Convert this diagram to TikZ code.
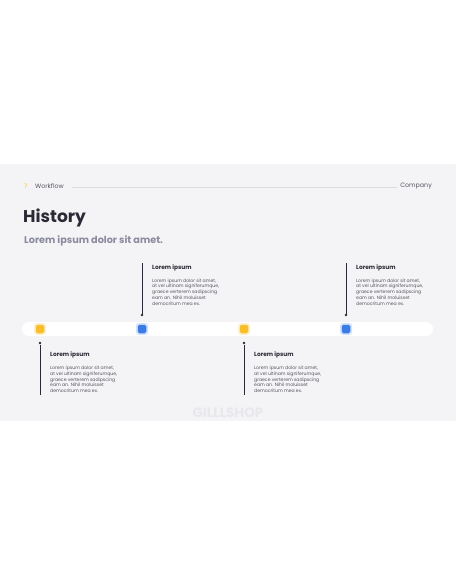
\documentclass[tikz,border=0pt]{standalone}
\usepackage{fontspec}
\setmainfont{Poppins}
\definecolor{slidebg}{HTML}{F4F4F6}
\definecolor{ink}{HTML}{2A2A36}
\definecolor{subgray}{HTML}{8A8A9E}
\definecolor{bodygray}{HTML}{55555F}
\definecolor{linegray}{HTML}{DCDCE0}
\definecolor{myyellow}{HTML}{F8BF2A}
\definecolor{myblue}{HTML}{3B7BE6}
\definecolor{wm}{HTML}{E8E8EC}
\begin{document}
\begin{tikzpicture}[x=1pt,y=-1pt,
  head/.style={anchor=west, font=\fontsize{5.9}{6.5}\selectfont\bfseries, text=ink, inner sep=0},
  body/.style={anchor=north west, align=left, font=\fontsize{4.6}{5.7}\selectfont, text=bodygray, inner sep=0},
  stem/.style={draw=ink, line width=0.5pt},
  dot/.style={circle, fill=ink, inner sep=0, minimum size=2.6pt},
  marker/.style={rounded corners=1.6pt, minimum size=8.5pt, inner sep=0},
  glow/.style={rounded corners=3pt, minimum size=12pt, inner sep=0, opacity=0.22}]
\useasboundingbox (0,0) rectangle (456,586);
\fill[white] (0,0) rectangle (456,586);
\fill[slidebg] (0,164) rectangle (456,421);
% header
\node[anchor=west, text=myyellow, font=\fontsize{6}{7}\selectfont, inner sep=0] (num) at (24,186.5) {7};
\node[anchor=west, text=bodygray, font=\fontsize{6.3}{7}\selectfont, inner sep=0] (wf) at (35,186.5) {Workflow};
\node[anchor=east, text=bodygray, font=\fontsize{6.3}{7}\selectfont, inner sep=0] (co) at (432,186.5) {Company};
\draw[linegray, line width=0.4pt] ([xshift=8pt,yshift=-0.5pt]wf.east) -- ([xshift=-3pt,yshift=-0.5pt]co.west);
% titles
\node[anchor=west, font=\fontsize{17}{20}\selectfont\bfseries, text=ink, inner sep=0] (title) at (23,217.5) {History};
\node[anchor=west, font=\fontsize{9.7}{11}\selectfont\bfseries, text=subgray, inner sep=0] (sub) at (24,240.5) {Lorem ipsum dolor sit amet.};
% bar
\node[fill=white, rounded corners=7pt, minimum width=411pt, minimum height=14pt, inner sep=0] (bar) at (227.5,329) {};
% markers
\node[glow, fill=myyellow] at (40,329) {};
\node[marker, fill=myyellow] (m1) at (40,329) {};
\node[glow, fill=myblue] at (142,329) {};
\node[marker, fill=myblue] (m2) at (142,329) {};
\node[glow, fill=myyellow] at (244,329) {};
\node[marker, fill=myyellow] (m3) at (244,329) {};
\node[glow, fill=myblue] at (346,329) {};
\node[marker, fill=myblue] (m4) at (346,329) {};
% stems
\node[dot] (d1) at (40,343) {};
\coordinate (e1) at (40,395);
\draw[stem] (d1) -- (e1);
\node[dot] (d3) at (244,343) {};
\coordinate (e3) at (244,395);
\draw[stem] (d3) -- (e3);
\coordinate (e2) at (142,263);
\node[dot] (d2) at (142,315) {};
\draw[stem] (e2) -- (d2);
\coordinate (e4) at (346,263);
\node[dot] (d4) at (346,315) {};
\draw[stem] (e4) -- (d4);
% texts
\newcommand{\loremtext}{Lorem ipsum dolor sit amet,\\at vel ultinam signiferumque,\\graece verterem sadipscing\\eam an. Nihil moluisset\\democritum mea ex.}
\node[head] (h2) at (152,267.5) {Lorem ipsum};
\node[body] (b2) at (152,278.5) {\loremtext};
\node[head] (h4) at (356,267.5) {Lorem ipsum};
\node[body] (b4) at (356,278.5) {\loremtext};
\node[head] (h1) at (50,355) {Lorem ipsum};
\node[body] (b1) at (50,366) {\loremtext};
\node[head] (h3) at (254,355) {Lorem ipsum};
\node[body] (b3) at (254,366) {\loremtext};
% watermark
\node[font=\fontsize{13.5}{15}\selectfont\bfseries, text=wm, inner sep=0] (wmk) at (228,413) {GILLLSHOP};
\end{tikzpicture}
\end{document}
